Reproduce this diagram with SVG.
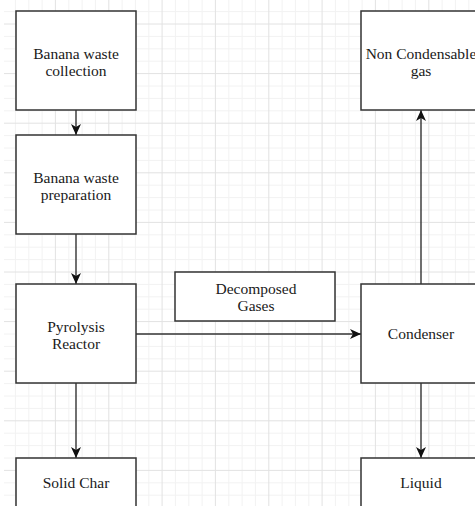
<svg xmlns="http://www.w3.org/2000/svg" width="475" height="506" viewBox="0 0 475 506">
<style>
.minor{stroke:#f2f2f2;stroke-width:1;fill:none}
.major{stroke:#e2e2e2;stroke-width:1;fill:none}
.box{fill:#ffffff;stroke:#333333;stroke-width:1.5}
.lbl{font-family:"Liberation Serif","Times New Roman",serif;font-size:15.5px;fill:#1a1a1a;text-anchor:middle}
.edge{stroke:#333333;stroke-width:1.4;fill:none}
</style>
<defs>
<marker id="arr" markerUnits="userSpaceOnUse" markerWidth="11" markerHeight="10" viewBox="0 0 11 10" refX="11" refY="5" orient="auto">
<path d="M0,0 L11,5 L0,10 L3,5 Z" fill="#111111"/>
</marker>
</defs>
<rect width="475" height="506" fill="#ffffff"/>
<g id="grid">
<path class="minor" d="M15.4,0V506M28.8,0V506M42.1,0V506M68.8,0V506M82.1,0V506M95.4,0V506M122.1,0V506M135.4,0V506M148.8,0V506M175.4,0V506M188.8,0V506M202.1,0V506M228.8,0V506M242.1,0V506M255.4,0V506M282.1,0V506M295.4,0V506M308.8,0V506M335.4,0V506M348.8,0V506M362.1,0V506M388.8,0V506M402.1,0V506M415.4,0V506M442.1,0V506M455.4,0V506M468.8,0V506
M4,11.6H475M4,36.4H475M4,48.8H475M4,61.2H475M4,86H475M4,98.4H475M4,110.8H475M4,135.6H475M4,148H475M4,160.4H475M4,185.2H475M4,197.6H475M4,210H475M4,234.8H475M4,247.2H475M4,259.6H475M4,284.4H475M4,296.8H475M4,309.2H475M4,334H475M4,346.4H475M4,358.8H475M4,383.6H475M4,396H475M4,408.4H475M4,433.2H475M4,445.6H475M4,458H475M4,482.8H475M4,495.2H475"/>
<path class="major" d="M55.4,0V506M108.8,0V506M162.1,0V506M215.4,0V506M268.8,0V506M322.1,0V506M375.4,0V506M428.8,0V506
M4,24H475M4,73.6H475M4,123.2H475M4,172.8H475M4,222.4H475M4,272H475M4,321.6H475M4,371.2H475M4,420.8H475M4,470.4H475"/>
</g>
<g id="connectors">
<line class="edge" x1="76" y1="110" x2="76" y2="135" marker-end="url(#arr)"/>
<line class="edge" x1="76" y1="234" x2="76" y2="284" marker-end="url(#arr)"/>
<line class="edge" x1="76" y1="383" x2="76" y2="458" marker-end="url(#arr)"/>
<line class="edge" x1="136" y1="334" x2="361" y2="334" marker-end="url(#arr)"/>
<line class="edge" x1="421" y1="284" x2="421" y2="110" marker-end="url(#arr)"/>
<line class="edge" x1="421" y1="383" x2="421" y2="458" marker-end="url(#arr)"/>
</g>
<g id="collection">
<rect class="box" x="16" y="11" width="120" height="99"/>
<text class="lbl" x="76" y="58.7">Banana waste</text>
<text class="lbl" x="76" y="75.7">collection</text>
</g>
<g id="preparation">
<rect class="box" x="16" y="135" width="120" height="99"/>
<text class="lbl" x="76" y="182.7">Banana waste</text>
<text class="lbl" x="76" y="199.7">preparation</text>
</g>
<g id="reactor">
<rect class="box" x="16" y="284" width="120" height="99"/>
<text class="lbl" x="76" y="331.7">Pyrolysis</text>
<text class="lbl" x="76" y="348.7">Reactor</text>
</g>
<g id="solidchar">
<rect class="box" x="16" y="458" width="120" height="99"/>
<text class="lbl" x="76" y="488.3">Solid Char</text>
</g>
<g id="decomposed">
<rect class="box" x="175" y="272" width="160" height="49"/>
<text class="lbl" x="256" y="294.3">Decomposed</text>
<text class="lbl" x="256" y="311">Gases</text>
</g>
<g id="noncondensable">
<rect class="box" x="361" y="11" width="120" height="99"/>
<text class="lbl" x="421" y="58.7">Non Condensable</text>
<text class="lbl" x="421" y="75.7">gas</text>
</g>
<g id="condenser">
<rect class="box" x="361" y="284" width="120" height="99"/>
<text class="lbl" x="421" y="339.3">Condenser</text>
</g>
<g id="liquid">
<rect class="box" x="361" y="458" width="120" height="99"/>
<text class="lbl" x="421" y="488">Liquid</text>
</g>
</svg>
